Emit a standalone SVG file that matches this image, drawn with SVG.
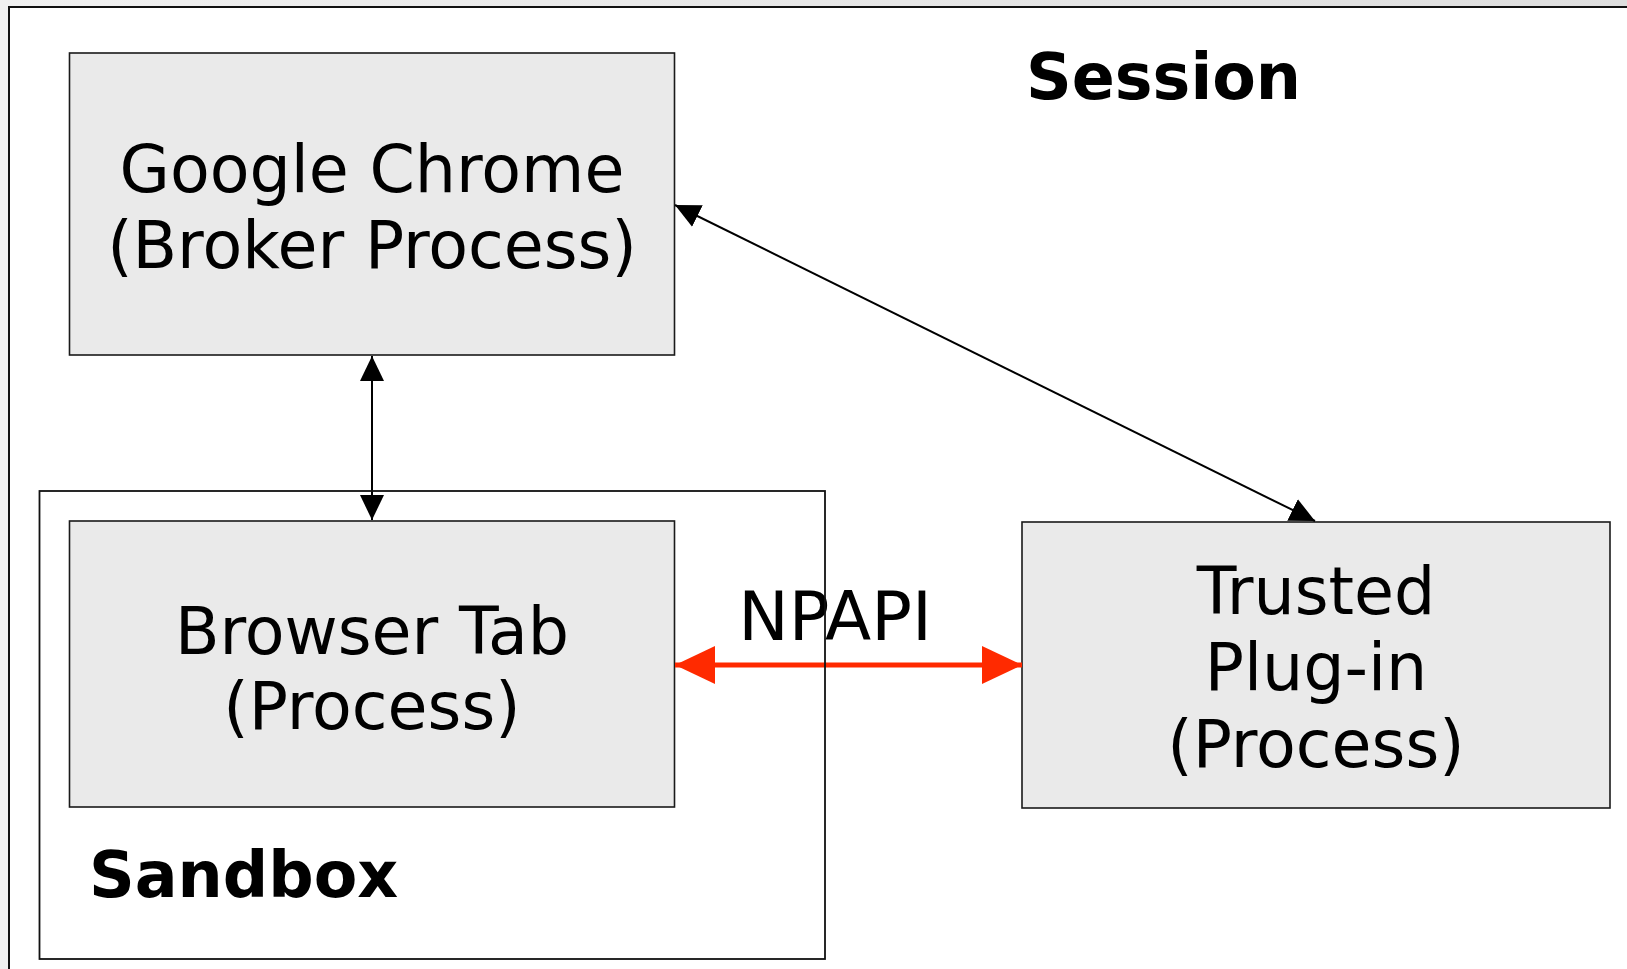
<svg xmlns="http://www.w3.org/2000/svg" width="1627" height="969" viewBox="0 0 1627 969">
<defs>
<linearGradient id="bg" x1="0" y1="0" x2="1" y2="0">
<stop offset="0" stop-color="#f0f0f0"/>
<stop offset="1" stop-color="#dedede"/>
</linearGradient>
<marker id="ah" viewBox="0 0 25 24" refX="25" refY="12" markerWidth="25" markerHeight="24" markerUnits="userSpaceOnUse" orient="auto-start-reverse">
<path d="M0,0 L25,12 L0,24 Z" fill="#000"/>
</marker>
<marker id="rh" viewBox="0 0 40 38" refX="40" refY="19" markerWidth="40" markerHeight="38" markerUnits="userSpaceOnUse" orient="auto-start-reverse">
<path d="M0,0 L40,19 L0,38 Z" fill="#ff2a00"/>
</marker>
</defs>
<style>
.box{fill:#eaeaea;stroke:#1a1a1a;stroke-width:1.6}
.t{font-family:"DejaVu Sans",Verdana,sans-serif;font-size:65px;fill:#000;text-anchor:middle}
.b{font-family:"DejaVu Sans",Verdana,sans-serif;font-size:63.5px;font-weight:bold;fill:#000}
.c{stroke:#000;stroke-width:2;fill:none}
</style>
<rect x="0" y="0" width="1627" height="969" fill="url(#bg)"/>
<g id="session">
<rect x="9" y="7" width="1640" height="990" fill="#fff" stroke="#111" stroke-width="2"/>
<text class="b" x="1026" y="99">Session</text>
</g>
<g id="chrome">
<rect class="box" x="69.5" y="53" width="605" height="302"/>
<text class="t" x="372" y="192">Google Chrome</text>
<text class="t" x="372" y="268">(Broker Process)</text>
</g>
<g id="browser-tab">
<rect class="box" x="69.5" y="521" width="605" height="286"/>
<text class="t" x="372" y="654">Browser Tab</text>
<text class="t" x="372" y="729">(Process)</text>
</g>
<g id="trusted-plugin">
<rect class="box" x="1022" y="522" width="588" height="286"/>
<text class="t" x="1316" y="614">Trusted</text>
<text class="t" x="1316" y="690">Plug-in</text>
<text class="t" x="1316" y="767">(Process)</text>
</g>
<g id="connectors">
<line class="c" x1="372" y1="356" x2="372" y2="520" marker-start="url(#ah)" marker-end="url(#ah)"/>
<line class="c" x1="675" y1="205" x2="1315" y2="521" marker-start="url(#ah)" marker-end="url(#ah)"/>
<line x1="675" y1="665" x2="1022" y2="665" stroke="#ff2a00" stroke-width="5" marker-start="url(#rh)" marker-end="url(#rh)"/>
<text class="t" x="835" y="640" style="font-size:67.5px">NPAPI</text>
</g>
<g id="sandbox">
<rect x="39.5" y="491" width="785.5" height="468" fill="none" stroke="#111" stroke-width="1.8"/>
<text class="b" x="89" y="897">Sandbox</text>
</g>
</svg>
